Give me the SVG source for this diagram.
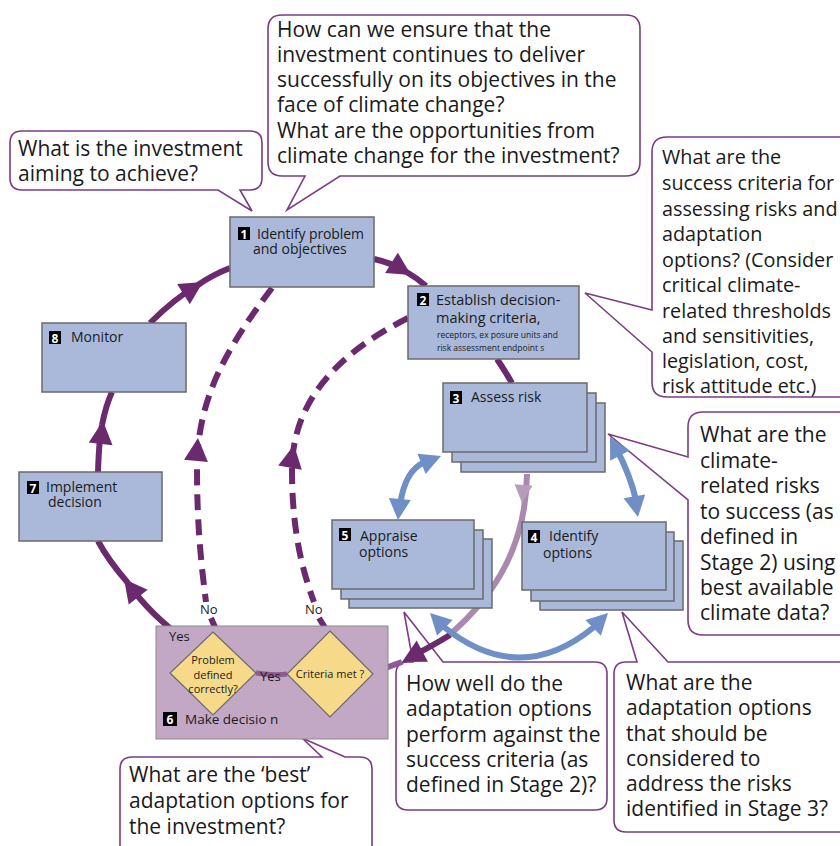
<svg xmlns="http://www.w3.org/2000/svg" xmlns:xlink="http://www.w3.org/1999/xlink" width="840" height="846" viewBox="0 0 840 846">
<style>
.co{fill:#fff;stroke:#7b3b85;stroke-width:1.6}
.ct{font-family:"Open Sans","Noto Sans",sans-serif;font-size:21px;fill:#1a1a1a}
.cs{font-size:19.8px}
.nd{fill:#aab9da;stroke:#6a6a6a;stroke-width:1.5}
.nt{font-family:"Open Sans","Noto Sans",sans-serif;font-size:14px;fill:#1a1a1a}
.ns{font-family:"Open Sans","Noto Sans",sans-serif;font-size:8.5px;fill:#1a1a1a}
.num{font-family:"Open Sans","Noto Sans",sans-serif;font-size:12px;font-weight:bold;fill:#fff}
.sq{fill:#000}
.dia{fill:#f6da8a;stroke:#6a6a6a;stroke-width:1.2}
.dt{font-family:"Open Sans","Noto Sans",sans-serif;font-size:11px;fill:#1a1a1a;text-anchor:middle}
.lab{font-family:"Open Sans","Noto Sans",sans-serif;font-size:13px;fill:#1a1a1a}
.pl{fill:none;stroke:#6b2a6e;stroke-width:6}
.pd{fill:none;stroke:#6b2a6e;stroke-width:6;stroke-dasharray:16 9}
.ml{fill:none;stroke:#a98aae;stroke-width:6}
.bl{fill:none;stroke:#6f8fc6;stroke-width:6}
</style>
<defs>
<path id="ahp" d="M0,0 L-23,-12 L-23,12 Z" fill="#6b2a6e"/>
<path id="ahm" d="M0,0 L-18,-9 L-18,9 Z" fill="#b89cbc"/>
<path id="ahb" d="M0,0 L-21,-11 L-21,11 Z" fill="#6f8fc6"/>
</defs>

<g id="callout-aim">
<path class="co" d="M22,131 H250 Q262,131 262,143 V178 Q262,190 250,190 H240 L252,211 L218,190 H22 Q10,190 10,178 V143 Q10,131 22,131 Z"/>
<text class="ct" x="18" y="156">What is the investment</text>
<text class="ct" x="18" y="181">aiming to achieve?</text>
</g>
<g id="callout-ensure">
<path class="co" d="M282,15 H626 Q640,15 640,29 V162 Q640,176 626,176 H340 L287,210 L305,176 H282 Q268,176 268,162 V29 Q268,15 282,15 Z"/>
<text class="ct" x="277" y="37">How can we ensure that the</text>
<text class="ct" x="277" y="62">investment continues to deliver</text>
<text class="ct" x="277" y="87">successfully on its objectives in the</text>
<text class="ct" x="277" y="112">face of climate change?</text>
<text class="ct" x="277" y="138">What are the opportunities from</text>
<text class="ct" x="277" y="163">climate change for the investment?</text>
</g>
<g id="callout-criteria">
<path class="co" d="M667,137 H850 V397 H667 Q652,397 652,382 V352 L585,293 L652,310 V152 Q652,137 667,137 Z"/>
<text class="ct cs" x="662" y="164">What are the</text>
<text class="ct cs" x="662" y="190">success criteria for</text>
<text class="ct cs" x="662" y="216">assessing risks and</text>
<text class="ct cs" x="662" y="241">adaptation</text>
<text class="ct cs" x="662" y="267">options? (Consider</text>
<text class="ct cs" x="662" y="292">critical climate-</text>
<text class="ct cs" x="662" y="318">related thresholds</text>
<text class="ct cs" x="662" y="343">and sensitivities,</text>
<text class="ct cs" x="662" y="368">legislation, cost,</text>
<text class="ct cs" x="662" y="393">risk attitude etc.)</text>
</g>
<g id="callout-risks">
<path class="co" d="M703,412 H850 V635 H703 Q688,635 688,620 V500 L608,434 L688,457 V427 Q688,412 703,412 Z"/>
<text class="ct" x="700" y="442">What are the</text>
<text class="ct" x="700" y="468">climate-</text>
<text class="ct" x="700" y="493">related risks</text>
<text class="ct" x="700" y="519">to success (as</text>
<text class="ct" x="700" y="544">defined in</text>
<text class="ct" x="700" y="570">Stage 2) using</text>
<text class="ct" x="700" y="595">best available</text>
<text class="ct" x="700" y="620">climate data?</text>
</g>
<g id="callout-perform">
<path class="co" d="M408,662 H413 L404,612 L443,662 H595 Q607,662 607,674 V798 Q607,810 595,810 H408 Q396,810 396,798 V674 Q396,662 408,662 Z"/>
<text class="ct" x="406" y="691">How well do the</text>
<text class="ct" x="406" y="716">adaptation options</text>
<text class="ct" x="406" y="742">perform against the</text>
<text class="ct" x="406" y="767">success criteria (as</text>
<text class="ct" x="406" y="792">defined in Stage 2)?</text>
</g>
<g id="callout-options">
<path class="co" d="M626,662 H637 L622,612 L668,662 H850 V832 H626 Q614,832 614,820 V674 Q614,662 626,662 Z"/>
<text class="ct" x="626" y="690">What are the</text>
<text class="ct" x="626" y="715">adaptation options</text>
<text class="ct" x="626" y="741">that should be</text>
<text class="ct" x="626" y="766">considered to</text>
<text class="ct" x="626" y="791">address the risks</text>
<text class="ct" x="626" y="816">identified in Stage 3?</text>
</g>
<g id="callout-best">
<path class="co" d="M132,757 H322 L302,738 L345,757 H360 Q372,757 372,769 V860 H120 V769 Q120,757 132,757 Z"/>
<text class="ct" x="129" y="782">What are the ‘best’</text>
<text class="ct" x="129" y="808">adaptation options for</text>
<text class="ct" x="129" y="834">the investment?</text>
</g>

<g id="connectors">
<path class="pl" d="M374,259 Q392,263 405,271"/>
<path class="pl" d="M405,271 Q417,278 426,286"/>
<use xlink:href="#ahp" transform="translate(411,275) rotate(32)"/>
<path class="pl" d="M497,359 Q505,371 512,383"/>
<path class="pl" d="M150,323 Q175,298 198,285"/>
<path class="pl" d="M198,285 Q212,275 230,268"/>
<use xlink:href="#ahp" transform="translate(203,282) rotate(-32)"/>
<path class="pl" d="M98,472 Q99,440 102,425"/>
<path class="pl" d="M102,425 Q106,405 112,392"/>
<use xlink:href="#ahp" transform="translate(103,421) rotate(-84)"/>
<path class="pl" d="M188,642 Q150,615 128,583"/>
<path class="pl" d="M128,583 Q108,560 98,541"/>
<use xlink:href="#ahp" transform="translate(124,579) rotate(-128)"/>
<path class="pd" d="M272,288 C225,350 197,400 197,470 C197,530 202,570 206,602"/>
<use xlink:href="#ahp" transform="translate(198,438) rotate(-85)"/>
<path class="pl" d="M211,618 L217,632"/>
<path class="pd" d="M408,318 C340,352 292,400 292,470 C292,535 304,575 314,602"/>
<use xlink:href="#ahp" transform="translate(294,445) rotate(-80)"/>
<path class="pl" d="M319,618 L327,631"/>
<path class="ml" d="M527,474 C526,540 500,592 448,636"/>
<use xlink:href="#ahm" transform="translate(522,503) rotate(95)"/>
<path class="pl" d="M450,635 Q432,646 418,653"/>
<use xlink:href="#ahp" transform="translate(402,662) rotate(152)"/>
<path fill="none" stroke="#8e5a92" stroke-width="6" d="M373,673 Q385,668 402,662"/>
<path class="bl" d="M400,505 Q405,470 425,462"/>
<use xlink:href="#ahb" transform="translate(441,456) rotate(-22)"/>
<use xlink:href="#ahb" transform="translate(398,520) rotate(95)"/>
<path class="bl" d="M618,452 Q630,475 636,500"/>
<use xlink:href="#ahb" transform="translate(610,437) rotate(-118)"/>
<use xlink:href="#ahb" transform="translate(638,517) rotate(80)"/>
<path class="bl" d="M444,627 Q520,688 594,627"/>
<use xlink:href="#ahb" transform="translate(430,613) rotate(-135)"/>
<use xlink:href="#ahb" transform="translate(608,613) rotate(-45)"/>
</g>

<g id="node-1">
<rect class="nd" x="230" y="217" width="144" height="70"/>
<rect class="sq" x="238" y="227" width="12" height="13"/>
<text class="num" x="244" y="238.5" text-anchor="middle">1</text>
<text class="nt" x="257" y="239" textLength="107" lengthAdjust="spacing">Identify problem</text>
<text class="nt" x="253" y="254">and objectives</text>
</g>
<g id="node-2">
<rect class="nd" x="408" y="286" width="171" height="73"/>
<rect class="sq" x="417" y="293" width="12" height="13"/>
<text class="num" x="423" y="304.5" text-anchor="middle">2</text>
<text class="nt" x="436" y="305" style="font-size:14.5px">Establish decision-</text>
<text class="nt" x="436" y="323" style="font-size:14.5px">making criteria,</text>
<text class="ns" x="437" y="338">receptors, ex posure units and</text>
<text class="ns" x="437" y="351">risk assessment endpoint s</text>
</g>
<g id="node-3">
<rect class="nd" x="461" y="403" width="144" height="69"/>
<rect class="nd" x="452" y="393" width="144" height="69"/>
<rect class="nd" x="443" y="383" width="144" height="69"/>
<rect class="sq" x="450" y="391" width="12" height="13"/>
<text class="num" x="456" y="402.5" text-anchor="middle">3</text>
<text class="nt" x="471" y="402">Assess  risk</text>
</g>
<g id="node-5">
<rect class="nd" x="349" y="539" width="143" height="69"/>
<rect class="nd" x="341" y="530" width="142" height="69"/>
<rect class="nd" x="332" y="520" width="142" height="69"/>
<rect class="sq" x="339" y="528" width="12" height="13"/>
<text class="num" x="345" y="539.5" text-anchor="middle">5</text>
<text class="nt" x="360" y="541">Appraise</text>
<text class="nt" x="359" y="557">options</text>
</g>
<g id="node-4">
<rect class="nd" x="540" y="541" width="143" height="69"/>
<rect class="nd" x="531" y="532" width="143" height="69"/>
<rect class="nd" x="522" y="522" width="144" height="68"/>
<rect class="sq" x="528" y="530" width="12" height="13"/>
<text class="num" x="534" y="541.5" text-anchor="middle">4</text>
<text class="nt" x="549" y="541">Identify</text>
<text class="nt" x="543" y="558">options</text>
</g>
<g id="node-8">
<rect class="nd" x="42" y="323" width="144" height="69"/>
<rect class="sq" x="49" y="331" width="12" height="13"/>
<text class="num" x="55" y="342.5" text-anchor="middle">8</text>
<text class="nt" x="71" y="342">Monitor</text>
</g>
<g id="node-7">
<rect class="nd" x="19" y="472" width="143" height="69"/>
<rect class="sq" x="27" y="481" width="12" height="13"/>
<text class="num" x="33" y="492.5" text-anchor="middle">7</text>
<text class="nt" x="46" y="492">Implement</text>
<text class="nt" x="48" y="507">decision</text>
</g>
<g id="node-6">
<rect fill="#c3a8c6" stroke="#8a8a8a" stroke-width="1" x="156" y="626" width="232" height="113"/>
<path fill="none" stroke="#8e5a92" stroke-width="5" d="M256,673 Q275,676 287,674"/>
<path class="dia" d="M213,632 L256,673 L213,715 L170,673 Z"/>
<path class="dia" d="M330,631 L373,674 L330,717 L287,674 Z"/>
<text class="dt" x="213" y="664">Problem</text>
<text class="dt" x="213" y="679">defined</text>
<text class="dt" x="213" y="693">correctly?</text>
<text class="dt" x="330" y="678">Criteria met  ?</text>
<text class="lab" x="169" y="641">Yes</text>
<text class="lab" x="260" y="681">Yes</text>
<rect class="sq" x="163" y="712" width="14" height="14"/>
<text class="num" x="170" y="724" text-anchor="middle">6</text>
<text class="nt" x="185" y="724" style="font-size:13.5px">Make decisio n</text>
</g>
<g id="labels-no">
<text class="lab" x="200" y="614">No</text>
<text class="lab" x="305" y="614">No</text>
</g>
</svg>
